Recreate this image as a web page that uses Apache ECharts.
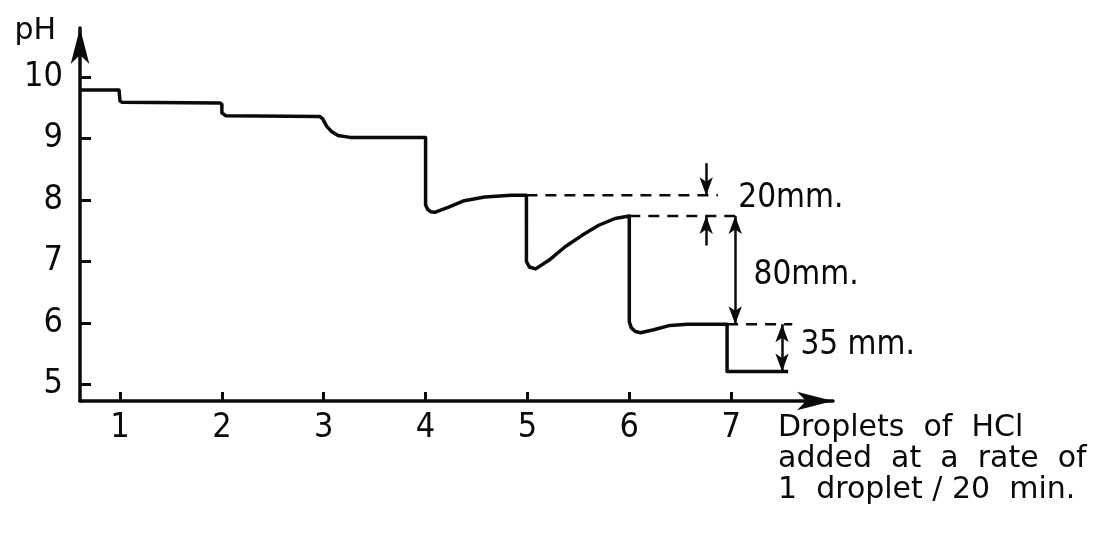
<!DOCTYPE html>
<html><head><meta charset="utf-8">
<script src="https://cdn.jsdelivr.net/npm/echarts@6/dist/echarts.min.js"></script>
<style>html,body{margin:0;padding:0;background:#fff}#c{width:1118px;height:543px}</style>
</head><body><div id="c"></div>
<script>
// Axis ticks
const xTicks = [1, 2, 3, 4, 5, 6, 7];
const yTicks = [5, 6, 7, 8, 9, 10];
// pH trace (droplets added, pH)
const traceX = [0.607, 0.99, 1.0, 1.0, 1.02, 1.98, 2.0, 2.0, 2.04, 2.96, 2.99, 3.03, 3.08, 3.14, 3.26, 4.0,
  4.0, 4.02, 4.05, 4.09, 4.22, 4.38, 4.58, 4.84, 4.99,
  4.99, 5.02, 5.08, 5.21, 5.37, 5.54, 5.70, 5.86, 6.0,
  6.0, 6.02, 6.06, 6.11, 6.24, 6.40, 6.57, 6.96,
  6.96, 7.56];
const tracePH = [9.79, 9.79, 9.77, 9.61, 9.59, 9.58, 9.56, 9.42, 9.37, 9.36, 9.32, 9.20, 9.11, 9.05, 9.02, 9.02,
  7.92, 7.85, 7.81, 7.80, 7.88, 7.99, 8.05, 8.08, 8.08,
  7.00, 6.91, 6.88, 7.02, 7.24, 7.43, 7.59, 7.70, 7.74,
  6.02, 5.92, 5.86, 5.84, 5.89, 5.96, 5.98, 5.98,
  5.21, 5.21];
// Dashed reference levels
const dashLevels = [8.08, 7.74, 5.98];
const dashFrom = [4.99, 6.0, 6.96];
const dashTo = [6.87, 7.10, 7.60];
// Dimension arrows: x, pH from, pH to, both-ended?
const arrowX = [6.755, 6.755, 7.04, 7.50];
const arrowFrom = [8.60, 7.26, 7.74, 5.98];
const arrowTo = [8.08, 7.74, 5.98, 5.21];
const arrowBoth = [false, false, true, true];
// Dimension labels
const dimText = ['20mm.', '80mm.', '35 mm.'];
const dimX = [7.07, 7.22, 7.68];
const dimPH = [8.03, 6.78, 5.63];
const xName = 'Droplets  of  HCl\nadded  at  a  rate  of\n1  droplet / 20  min.';
const yName = 'pH';

const INK = '#0a0a0a';
const NARROW = "'DejaVu Sans Condensed','Liberation Sans Narrow','DejaVu Sans',sans-serif";
const chart = echarts.init(document.getElementById('c'), null, {renderer: 'canvas'});

const series = [{
  type: 'line',
  data: traceX.map((x, i) => [x, tracePH[i]]),
  showSymbol: false,
  lineStyle: {color: INK, width: 3.5, join: 'round'},
  animation: false,
  silent: true,
  markLine: {
    silent: true,
    animation: false,
    symbolSize: [10, 18],
    label: {show: false},
    lineStyle: {color: INK, width: 2.5, type: 'solid', opacity: 1},
    data: arrowX.map((x, i) => [
      {coord: [x, arrowFrom[i]], symbol: arrowBoth[i] ? 'arrow' : 'none'},
      {coord: [x, arrowTo[i]], symbol: 'arrow'}
    ])
  }
}];
dashLevels.forEach((lv, i) => {
  series.push({
    type: 'line',
    data: [[dashFrom[i], lv], [dashTo[i], lv]],
    showSymbol: false,
    silent: true,
    animation: false,
    lineStyle: {color: INK, width: 2.5, type: [11, 8]}
  });
});
series.push({
  type: 'scatter',
  symbolSize: 0,
  silent: true,
  animation: false,
  itemStyle: {opacity: 1},
  data: dimText.map((t, i) => ({name: t, value: [dimX[i], dimPH[i]]})),
  label: {show: true, position: 'right', distance: 0, formatter: '{b}', color: INK, opacity: 1,
    fontSize: 33, fontFamily: NARROW, align: 'left', verticalAlign: 'middle'}
});

chart.setOption({
  backgroundColor: '#fff',
  animation: false,
  grid: {left: 80, right: 285, top: 28, bottom: 142},
  xAxis: {
    type: 'value', min: 0.607, max: 8.0,
    splitLine: {show: false},
    axisLine: {show: true, lineStyle: {color: INK, width: 3.5}, symbol: ['none', 'arrow'], symbolSize: [14, 36]},
    axisTick: {show: true, inside: true, length: 9, lineStyle: {color: INK, width: 3}, customValues: xTicks},
    axisLabel: {show: true, customValues: xTicks, color: INK, fontSize: 34, fontFamily: NARROW, margin: 10}
  },
  yAxis: {
    type: 'value', min: 4.73, max: 10.8,
    name: yName, nameLocation: 'end', nameGap: -3,
    nameTextStyle: {color: INK, fontSize: 30, fontFamily: "'DejaVu Sans',sans-serif", align: 'right', verticalAlign: 'middle', padding: [0, 24, 0, 0]},
    splitLine: {show: false},
    axisLine: {show: true, lineStyle: {color: INK, width: 3.5}, symbol: ['none', 'arrow'], symbolSize: [14, 36]},
    axisTick: {show: true, inside: true, length: 11, lineStyle: {color: INK, width: 3}, customValues: yTicks},
    axisLabel: {show: true, customValues: yTicks, color: INK, fontSize: 34, fontFamily: NARROW, margin: 17}
  },
  graphic: [{
    type: 'text', left: 778, top: 413, silent: true,
    style: {text: xName, fill: INK, font: "30px 'DejaVu Sans', sans-serif", lineHeight: 31}
  }],
  series: series
});
</script></body></html>
